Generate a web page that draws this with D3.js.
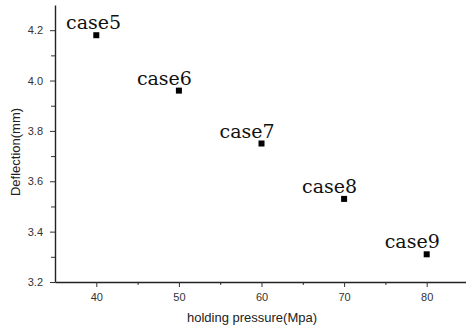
<!DOCTYPE html>
<html>
<head>
<meta charset="utf-8">
<script src="https://cdn.jsdelivr.net/npm/d3@7"></script>
<style>
  body { margin: 0; background: #fff; }
  svg { display: block; }
  .tick text { font-family: "Liberation Sans", Arial, sans-serif; font-size: 11px; fill: #333; }
</style>
</head>
<body>
<div id="chart"></div>
<script>
// holding pressure (Mpa) vs deflection (mm)
const cases = ['case5', 'case6', 'case7', 'case8', 'case9'];
const pressure = [40, 50, 60, 70, 80];
const deflection = [4.18, 3.96, 3.75, 3.53, 3.31];
const xTicks = [40, 50, 60, 70, 80];
const yTicks = [3.2, 3.4, 3.6, 3.8, 4.0, 4.2];

const width = 466, height = 330;
const plot = { left: 55, top: 5, right: 468, bottom: 282 };

const svg = d3.select('#chart')
  .append('svg')
  .attr('width', width)
  .attr('height', height);

const x = d3.scaleLinear().domain([35, 85]).range([plot.left, plot.right]);
const y = d3.scaleLinear().domain([3.2, 4.3]).range([plot.bottom, plot.top]);

// minor ticks (halfway between majors)
const xMinor = xTicks.slice(0, -1).map(v => v + 5);
const yMinor = yTicks.slice(0, -1).map(v => +(v + 0.1).toFixed(1));

svg.append('g')
  .attr('transform', `translate(0,${plot.bottom})`)
  .call(d3.axisBottom(x).tickValues(xMinor).tickFormat('').tickSize(3).tickSizeOuter(0))
  .call(g => g.select('.domain').remove());

svg.append('g')
  .attr('transform', `translate(${plot.left},0)`)
  .call(d3.axisLeft(y).tickValues(yMinor).tickFormat('').tickSize(4).tickSizeOuter(0))
  .call(g => g.select('.domain').remove());

const xAxis = svg.append('g')
  .attr('transform', `translate(0,${plot.bottom})`)
  .call(d3.axisBottom(x).tickValues(xTicks).tickFormat(d3.format('d')).tickSize(5).tickPadding(6).tickSizeOuter(0));

const yAxis = svg.append('g')
  .attr('transform', `translate(${plot.left},0)`)
  .call(d3.axisLeft(y).tickValues(yTicks).tickFormat(d3.format('.1f')).tickSize(5).tickPadding(7).tickSizeOuter(0));

svg.selectAll('.domain').attr('stroke', '#222').attr('stroke-width', 1.4);
svg.selectAll('.tick line').attr('stroke', '#333').attr('stroke-width', 1);

// axis titles
svg.append('text')
  .attr('x', 252)
  .attr('y', 322)
  .attr('text-anchor', 'middle')
  .style('font-family', '"Liberation Sans", Arial, sans-serif')
  .style('font-size', '13px')
  .style('fill', '#222')
  .text('holding pressure(Mpa)');

svg.append('text')
  .attr('transform', 'translate(20,152) rotate(-90)')
  .attr('text-anchor', 'middle')
  .style('font-family', '"Liberation Sans", Arial, sans-serif')
  .style('font-size', '13px')
  .style('fill', '#222')
  .text('Deflection(mm)');

const data = cases.map((c, i) => ({ name: c, p: pressure[i], d: deflection[i] }));

// square markers
svg.selectAll('.pt')
  .data(data)
  .enter().append('rect')
  .attr('class', 'pt')
  .attr('x', d => x(d.p) - 3)
  .attr('y', d => y(d.d) - 3)
  .attr('width', 6)
  .attr('height', 6)
  .attr('fill', '#000');

// case labels, up-left of each point, kept clear of the y axis
svg.selectAll('.label')
  .data(data)
  .enter().append('text')
  .attr('class', 'label')
  .attr('x', d => Math.max(x(d.p) - 42, plot.left + 11))
  .attr('y', d => y(d.d) - 6)
  .style('font-family', '"DejaVu Serif", "Liberation Serif", serif')
  .style('font-size', '19px')
  .style('fill', '#111')
  .text(d => d.name);
</script>
</body>
</html>
